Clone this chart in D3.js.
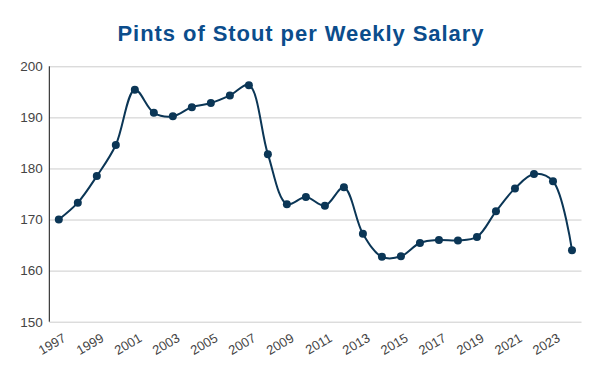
<!DOCTYPE html>
<html>
<head>
<meta charset="utf-8">
<script src="https://cdn.jsdelivr.net/npm/d3@7"></script>
<style>
  html, body { margin: 0; padding: 0; background: #fff; }
  svg { display: block; }
</style>
</head>
<body>
<svg id="chart" width="600" height="371"></svg>
<script>
const title = "Pints of Stout per Weekly Salary";
const years = [1997,1998,1999,2000,2001,2002,2003,2004,2005,2006,2007,2008,2009,2010,2011,2012,2013,2014,2015,2016,2017,2018,2019,2020,2021,2022,2023,2024];
const pints = [170.0,173.3,178.5,184.6,195.4,190.9,190.2,192.0,192.8,194.3,196.3,182.8,173.0,174.4,172.7,176.3,167.2,162.7,162.8,165.4,166.0,165.9,166.6,171.6,176.1,178.9,177.5,164.0];
const yTicks = [150,160,170,180,190,200];
const xTickLabels = [1997,1999,2001,2003,2005,2007,2009,2011,2013,2015,2017,2019,2021,2023];

const svg = d3.select("#chart");
const plotLeft = 49.3, plotRight = 581.5, plotTop = 66.3, plotBottom = 321.7;

const x = d3.scaleBand().domain(years).range([plotLeft, plotRight]).paddingInner(0).paddingOuter(0);
const cx = d => x(d) + x.bandwidth() / 2;
const y = d3.scaleLinear().domain([150, 200]).range([plotBottom, plotTop]);

// title
svg.append("text")
  .attr("x", 117.5).attr("y", 40.5)
  .attr("text-anchor", "start")
  .attr("font-family", "Liberation Sans, Arial, sans-serif")
  .attr("font-weight", "bold")
  .attr("font-size", 22)
  .attr("textLength", 366)
  .attr("lengthAdjust", "spacing")
  .attr("fill", "#0b4d8c")
  .text(title);

// gridlines
const yAxis = d3.axisLeft(y).tickValues(yTicks).tickSize(-(plotRight - plotLeft)).tickPadding(6).tickFormat(d3.format("d"));
const gy = svg.append("g").attr("transform", `translate(${plotLeft},0)`).call(yAxis);
gy.select(".domain").remove();
gy.selectAll(".tick line").attr("stroke", "#cccccc").attr("stroke-width", 1);
gy.selectAll(".tick text")
  .attr("font-family", "Liberation Sans, Arial, sans-serif")
  .attr("font-size", 13.5)
  .attr("fill", "#444")
  .attr("x", -6.5);

// vertical axis line
svg.append("line")
  .attr("x1", plotLeft).attr("x2", plotLeft)
  .attr("y1", y(200)).attr("y2", y(150))
  .attr("stroke", "#111").attr("stroke-width", 1);

// x axis labels
const xAxis = d3.axisBottom(x).tickValues(xTickLabels).tickSize(0).tickFormat(d3.format("d"));
const gx = svg.append("g").attr("transform", `translate(0,${plotBottom})`).call(xAxis);
gx.select(".domain").remove();
gx.selectAll(".tick text")
  .attr("font-family", "Liberation Sans, Arial, sans-serif")
  .attr("font-size", 13)
  .attr("fill", "#444")
  .attr("text-anchor", "end")
  .attr("dy", null)
  .attr("y", 0)
  .attr("transform", "translate(8,19) rotate(-30)");

// line
const line = d3.line()
  .x((d, i) => cx(years[i]))
  .y(d => y(d))
  .curve(d3.curveCatmullRom.alpha(0.5));

svg.append("path")
  .datum(pints)
  .attr("d", line)
  .attr("fill", "none")
  .attr("stroke", "#0b3656")
  .attr("stroke-width", 2);

svg.append("g").selectAll("circle")
  .data(pints)
  .join("circle")
  .attr("cx", (d, i) => cx(years[i]))
  .attr("cy", d => y(d))
  .attr("r", 4)
  .attr("fill", "#0b3656");
</script>
</body>
</html>
